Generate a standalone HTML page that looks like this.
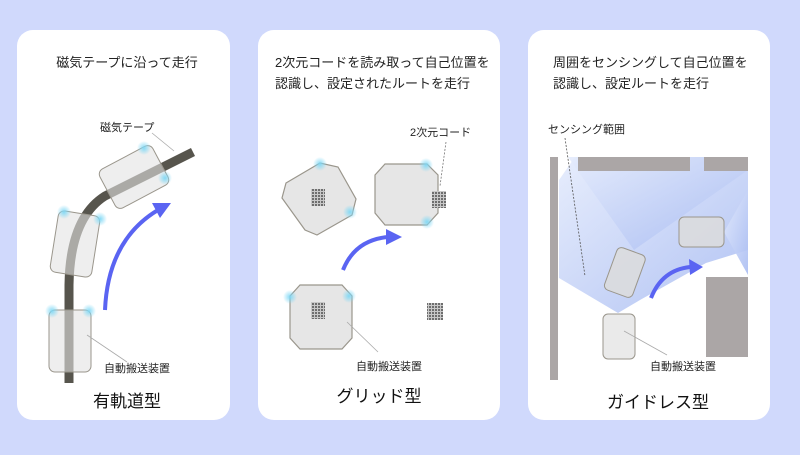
<!DOCTYPE html>
<html><head><meta charset="utf-8"><style>
body{margin:0;width:800px;height:450px;background:#d0d9fc;overflow:hidden;font-family:"Liberation Sans","Noto Sans CJK JP",sans-serif;}
</style></head><body>
<svg width="800" height="450" viewBox="0 0 800 450" xmlns="http://www.w3.org/2000/svg" font-family="Liberation Sans, Noto Sans CJK JP, sans-serif">
<defs>
<radialGradient id="glow"><stop offset="0" stop-color="#7fd8f5" stop-opacity="0.95"/><stop offset="1" stop-color="#7fd8f5" stop-opacity="0"/></radialGradient>
<linearGradient id="sb" x1="0" y1="0" x2="1" y2="1"><stop offset="0" stop-color="#e4ebfc"/><stop offset="1" stop-color="#a9bcf2"/></linearGradient>
<pattern id="qr" width="3" height="3" patternUnits="userSpaceOnUse"><rect width="3" height="3" fill="#c8c8c8"/><rect width="2" height="2" fill="#6e6e6e"/></pattern>
</defs>
<rect x="17" y="30" width="213" height="390" rx="16" fill="#fff"/>
<rect x="258" y="30" width="242" height="390" rx="16" fill="#fff"/>
<rect x="528" y="30" width="242" height="390" rx="16" fill="#fff"/>

<!-- Panel 1 -->
<text x="127" y="67" font-size="13" text-anchor="middle" fill="#222">磁気テープに沿って走行</text>
<path d="M69 383 L69 285 Q70 218 105 196 L193 152" fill="none" stroke="#57554d" stroke-width="9"/>
<g fill="#e2e2e2" fill-opacity="0.6" stroke="#9a968c" stroke-width="1">
<rect x="49" y="310" width="42" height="62" rx="6"/>
<rect x="54" y="213" width="42" height="62" rx="6" transform="rotate(9 75 244)"/>
<rect x="104" y="155" width="60" height="44" rx="6" transform="rotate(-28 134 177)"/>
</g>
<g fill="url(#glow)">
<circle cx="52" cy="311" r="7"/><circle cx="89" cy="311" r="7"/>
<circle cx="64" cy="212" r="7"/><circle cx="100" cy="219" r="7"/>
<circle cx="144" cy="148" r="7"/><circle cx="165" cy="178" r="7"/>
</g>
<path d="M105 310 Q108 240 158 210" fill="none" stroke="#5a64f2" stroke-width="4"/>
<path d="M171 203 L152 203 L160 218 Z" fill="#5a64f2"/>
<text x="100" y="131" font-size="11" fill="#222">磁気テープ</text>
<line x1="152" y1="133" x2="174" y2="151" stroke="#aaa" stroke-width="0.8"/>
<text x="104" y="372" font-size="11" fill="#222">自動搬送装置</text>
<line x1="87" y1="335" x2="127" y2="362" stroke="#aaa" stroke-width="0.8"/>
<text x="127" y="407" font-size="17" text-anchor="middle" fill="#111">有軌道型</text>

<!-- Panel 2 -->
<text x="275" y="67" font-size="13" fill="#222">2次元コードを読み取って自己位置を</text>
<text x="275" y="88" font-size="13" fill="#222">認識し、設定されたルートを走行</text>
<g fill="#e6e6e6" stroke="#9a968c" stroke-width="1.2">
<polygon points="286,183 320,163 338,167 356,199 352,215 317,235 305,230 282,198"/>
<polygon points="375,175 385,164 427,164 438,175 438,213 427,225 385,225 375,213"/>
<polygon points="290,296 300,285 342,285 352,296 352,338 342,349 300,349 290,338"/>
</g>
<g fill="url(#qr)">
<rect x="311" y="189" width="14" height="17"/>
<rect x="432" y="191" width="14" height="17"/>
<rect x="311" y="302" width="14" height="17"/>
<rect x="427" y="303" width="16" height="17"/>
</g>
<g fill="url(#glow)">
<circle cx="320" cy="164" r="7"/><circle cx="350" cy="212" r="7"/>
<circle cx="426" cy="165" r="7"/><circle cx="427" cy="222" r="7"/>
<circle cx="290" cy="297" r="7"/><circle cx="349" cy="296" r="7"/>
</g>
<path d="M343 270 Q355 240 388 237" fill="none" stroke="#5a64f2" stroke-width="4"/>
<path d="M402 237 L386 229 L386 245 Z" fill="#5a64f2"/>
<text x="410" y="136" font-size="11" fill="#222">2次元コード</text>
<line x1="446" y1="142" x2="440" y2="186" stroke="#777" stroke-width="0.8" stroke-dasharray="2,1.5"/>
<text x="356" y="370" font-size="11" fill="#222">自動搬送装置</text>
<line x1="347" y1="322" x2="378" y2="352" stroke="#aaa" stroke-width="0.8"/>
<text x="379" y="402" font-size="17" text-anchor="middle" fill="#111">グリッド型</text>

<!-- Panel 3 -->
<text x="553" y="67" font-size="13" fill="#222">周囲をセンシングして自己位置を</text>
<text x="553" y="88" font-size="13" fill="#222">認識し、設定ルートを走行</text>
<g fill="url(#sb)" fill-opacity="0.9">
<polygon points="618,313 559,278 559,180 575,157 748,157 748,250 706,263 640,300"/>
<polygon points="634,250 568,157 748,157 748,170"/>
<polygon points="724,232 748,190 748,275"/>
</g>
<g fill="#aba6a6">
<rect x="550" y="157" width="8" height="223"/>
<rect x="578" y="157" width="112" height="14"/>
<rect x="704" y="157" width="44" height="14"/>
<rect x="706" y="277" width="42" height="80"/>
</g>
<g fill="#dcdcdc" fill-opacity="0.85" stroke="#9a968c" stroke-width="1">
<rect x="679" y="217" width="45" height="30" rx="5"/>
<rect x="610" y="250" width="30" height="45" rx="5" transform="rotate(20 625 272)"/>
<rect x="603" y="314" width="32" height="45" rx="5" fill="#e6e6e6"/>
</g>
<path d="M651 298 Q662 270 690 267" fill="none" stroke="#5a64f2" stroke-width="4"/>
<path d="M703 267 L689 259 L690 275 Z" fill="#5a64f2"/>
<text x="548" y="133" font-size="11" fill="#222">センシング範囲</text>
<line x1="565" y1="138" x2="585" y2="276" stroke="#555" stroke-width="0.8" stroke-dasharray="2,1.5"/>
<text x="650" y="370" font-size="11" fill="#222">自動搬送装置</text>
<line x1="624" y1="331" x2="667" y2="355" stroke="#aaa" stroke-width="0.8"/>
<text x="658" y="408" font-size="17" text-anchor="middle" fill="#111">ガイドレス型</text>
</svg>
</body></html>
